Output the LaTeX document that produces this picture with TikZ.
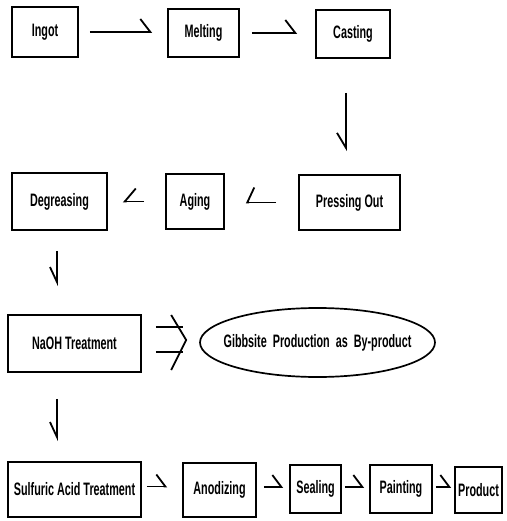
\documentclass[tikz,border=0pt]{standalone}
\usepackage{fontspec}
\setmainfont[FakeStretch=0.6]{Liberation Sans}
\usetikzlibrary{shapes.geometric,arrows.meta,calc}
\begin{document}
\begin{tikzpicture}[x=1pt,y=-1pt,
  txt/.style={font=\fontsize{18}{20}\selectfont\bfseries},
  box/.style={draw,line width=1.7pt,inner sep=0pt,txt},
  ln/.style={line width=1.8pt}]
\useasboundingbox (0,0) rectangle (506,521);
% row 1
\node[box,minimum width=66pt,minimum height=50pt] (ingot) at (45,32) {Ingot};
\node[box,minimum width=71pt,minimum height=48pt] (melting) at (203.5,33) {Melting};
\node[box,minimum width=74pt,minimum height=48pt] (casting) at (353,34) {Casting};
% row 2
\node[box,minimum width=95pt,minimum height=57pt] (degreasing) at (59.5,201.5) {Degreasing};
\node[box,minimum width=58pt,minimum height=55pt] (aging) at (195,201.5) {Aging};
\node[box,minimum width=101pt,minimum height=55pt] (pressing) at (349.5,202.5) {Pressing Out};
% row 3
\node[box,minimum width=133pt,minimum height=57pt] (naoh) at (74.5,343.5) {NaOH Treatment};
\node[box,ellipse,minimum width=235pt,minimum height=69pt,label={[txt]center:Gibbsite\ \ Production\ \ as\ \ By-product}] (gib) at (317.5,342.5) {};
% row 4
\node[box,minimum width=133pt,minimum height=55pt] (sulfuric) at (74.5,489.5) {Sulfuric Acid Treatment};
\node[box,minimum width=73pt,minimum height=54pt] (anodizing) at (219.5,490) {Anodizing};
\node[box,minimum width=51pt,minimum height=48pt] (sealing) at (315.5,489) {Sealing};
\node[box,minimum width=62pt,minimum height=48pt] (painting) at (401,489) {Painting};
\node[box,minimum width=47pt,minimum height=46pt] (product) at (478.5,490) {Product};
% connectors row 1
\draw[ln,-{Straight Barb[left,length=10pt,width=26pt]}] ([xshift=11pt]ingot.east) -- ([xshift=-15pt]ingot.east -| melting.west);
\draw[ln,-{Straight Barb[left,length=10pt,width=26pt]}] ([xshift=12pt]melting.east) -- ([xshift=-18pt]melting.east -| casting.west);
\draw[ln,-{Straight Barb[right,length=15pt,width=18pt]}] ([xshift=-7pt,yshift=-34pt]casting.south) -- ([xshift=-7pt,yshift=23pt]casting.south |- pressing.north);
% row 2
\draw[ln,-{Straight Barb[right,length=7pt,width=30pt]}] ([xshift=-22pt]pressing.west) -- ([xshift=21pt]pressing.west -| aging.east);
\draw[ln,-{Straight Barb[right,length=11pt,width=26pt]}] ([xshift=-21pt]aging.west) -- ([xshift=15pt]aging.west -| degreasing.east);
\draw[ln,-{Straight Barb[right,length=15pt,width=14pt]}] ([xshift=-2.5pt,yshift=-20pt]degreasing.south) -- ([xshift=-2.5pt,yshift=28pt]degreasing.south |- naoh.north);
% row 3
\draw[ln] ([xshift=14pt,yshift=16.5pt]naoh.east) -- ([xshift=-16pt,yshift=16.5pt]naoh.east -| gib.west);
\draw[ln] ([xshift=14pt,yshift=-8.5pt]naoh.east) -- ([xshift=-16pt,yshift=-8.5pt]naoh.east -| gib.west);
\draw[ln] ([xshift=-28pt,yshift=27.5pt]gib.west) -- ([xshift=-13pt,yshift=2.5pt]gib.west) -- ([xshift=-28pt,yshift=-27.5pt]gib.west);
\draw[ln,-{Straight Barb[right,length=15pt,width=14pt]}] ([xshift=-17.5pt,yshift=-26pt]naoh.south) -- ([xshift=-17.5pt,yshift=20pt]naoh.south |- sulfuric.north);
% row 4
\draw[ln,-{Straight Barb[left,length=9pt,width=24pt]}] ([xshift=5pt,yshift=3pt]sulfuric.east) -- ([xshift=-15pt,yshift=3pt]sulfuric.east -| anodizing.west);
\draw[ln,-{Straight Barb[left,length=9pt,width=24pt]}] ([xshift=7pt,yshift=3pt]anodizing.east) -- ([xshift=-6pt,yshift=3pt]anodizing.east -| sealing.west);
\draw[ln,-{Straight Barb[left,length=9pt,width=24pt]}] ([xshift=3pt,yshift=2pt]sealing.east) -- ([xshift=-5pt,yshift=2pt]sealing.east -| painting.west);
\draw[ln,-{Straight Barb[left,length=9pt,width=24pt]}] ([xshift=3pt,yshift=2pt]painting.east) -- ([xshift=-3pt,yshift=2pt]painting.east -| product.west);
\end{tikzpicture}
\end{document}
